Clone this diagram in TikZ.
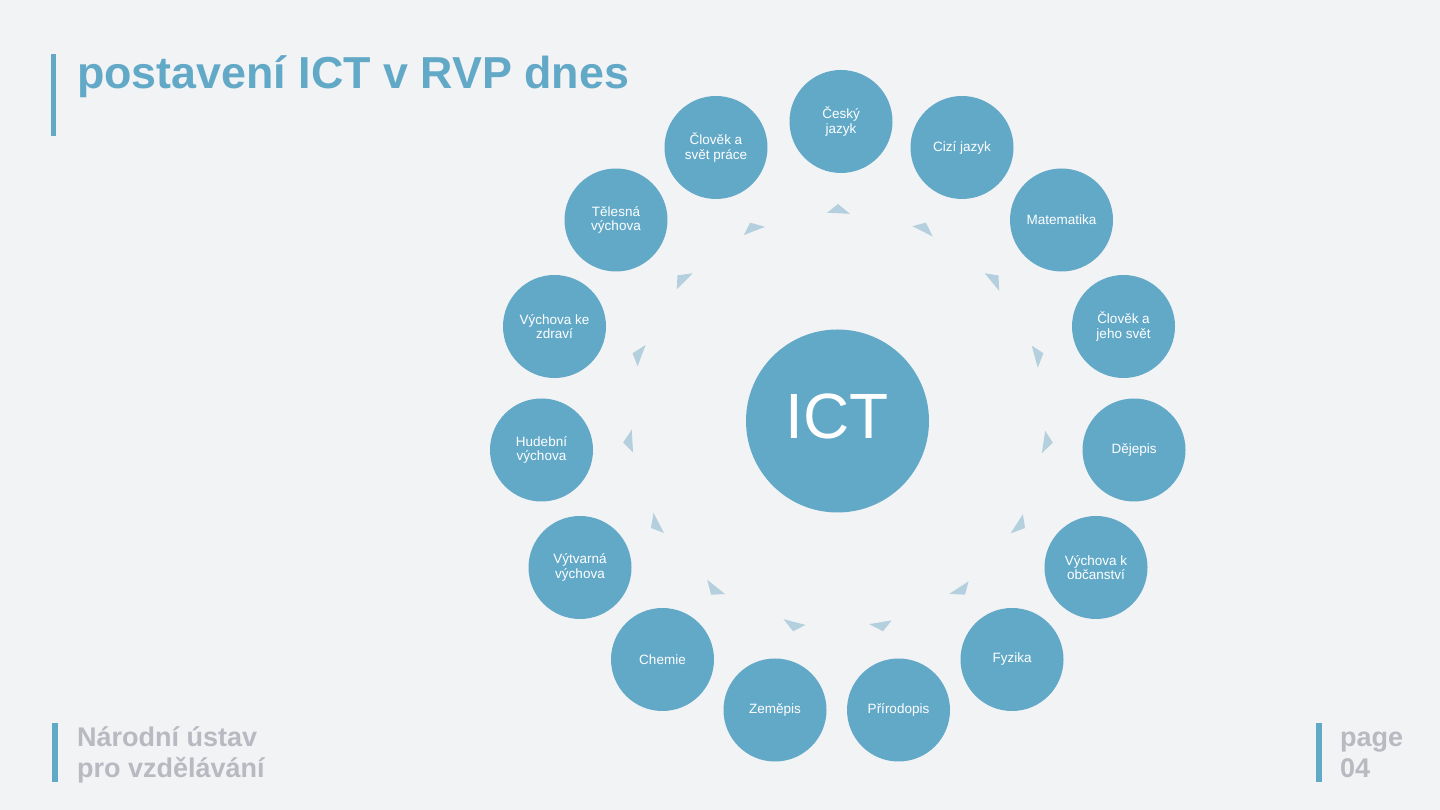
\documentclass[tikz,border=0pt]{standalone}
\usepackage{fontspec}
\setmainfont{Liberation Sans}
\usetikzlibrary{calc}
\definecolor{bgcol}{RGB}{242,243,245}
\definecolor{nuvblue}{RGB}{98,169,200}
\definecolor{tricol}{RGB}{180,207,221}
\definecolor{footgray}{RGB}{184,185,193}
\begin{document}
\begin{tikzpicture}[x=1pt,y=1pt,
  subj/.style={circle, fill=nuvblue, minimum size=103pt, inner sep=0pt, text=white, align=center, font=\fontsize{13.5}{14.5}\selectfont},
  hub/.style={circle, fill=nuvblue, minimum size=183pt, inner sep=0pt, text=white, text depth=9pt, font=\fontsize{64}{64}\selectfont},
  arrowtri/.style={fill=tricol},
  accentbar/.style={fill=nuvblue},
  titletext/.style={anchor=base west, inner sep=0pt, text=nuvblue, font=\fontsize{44.8}{50}\selectfont\bfseries},
  foottext/.style={anchor=base west, inner sep=0pt, text=footgray, font=\fontsize{27}{31}\selectfont\bfseries}
]
\fill[bgcol] (0,0) rectangle (1440,810);
\useasboundingbox (0,0) rectangle (1440,810);

% title
\fill[accentbar] (51,756) rectangle (56,674);
\node[titletext] (title) at (77,721) {postavení ICT v RVP dnes};

% footers
\fill[accentbar] (52,87) rectangle (58,28);
\node[foottext] (foot1) at (77,63) {Národní ústav};
\node[foottext] (foot2) at (77,32) {pro vzdělávání};
\fill[accentbar] (1316,87) rectangle (1322,28);
\node[foottext] (page1) at (1340,63) {page};
\node[foottext] (page2) at (1340,32) {04};

% hub
\node[hub] (ict) at (837.5,389) {ICT};
\coordinate (c) at (838,390);

% subjects
\node[subj] (cj)   at (841,688.5)   {Český\\jazyk};
\node[subj] (csp)  at (716,662.5)   {Člověk a\\svět práce};
\node[subj] (cizi) at (962,662.5)   {Cizí jazyk};
\node[subj] (tv)   at (616,590)     {Tělesná\\výchova};
\node[subj] (mat)  at (1061.5,590)  {Matematika};
\node[subj] (vkz)  at (554.5,483.5) {Výchova ke\\zdraví};
\node[subj] (cjs)  at (1123.5,483.5){Člověk a\\jeho svět};
\node[subj] (hv)   at (541.5,360)   {Hudební\\výchova};
\node[subj] (dej)  at (1134,360)    {Dějepis};
\node[subj] (vv)   at (580,242.5)   {Výtvarná\\výchova};
\node[subj] (vko)  at (1096,242.5)  {Výchova k\\občanství};
\node[subj] (chem) at (662.5,150.5) {Chemie};
\node[subj] (fyz)  at (1012,150.5)  {Fyzika};
\node[subj] (zem)  at (775,100)     {Zeměpis};
\node[subj] (pri)  at (898.5,100)   {Přírodopis};

% cycle arrowheads
\foreach \a in {90,66,42,18,-6,-30,-54,-78,-102,-126,-150,-174,-198,-222,-246}{
  \fill[arrowtri] ($(c)+(\a-3.3:206.5)$) -- ($(c)+(\a:216)$) -- ($(c)+(\a+3.0:207.5)$) -- cycle;
}
\end{tikzpicture}
\end{document}
